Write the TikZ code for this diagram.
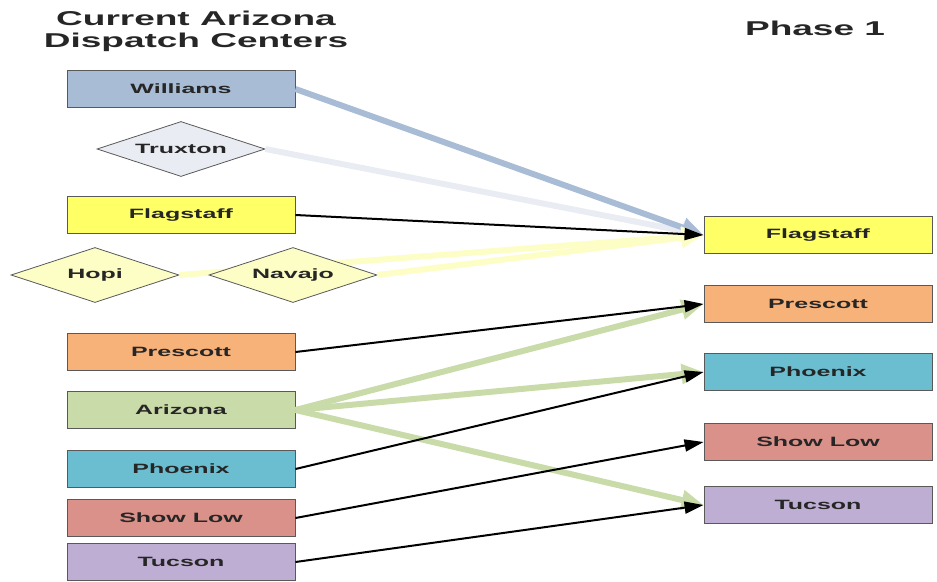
\documentclass[tikz,border=0pt]{standalone}
\usepackage{fontspec}
\setmainfont{Liberation Sans}
\newfontfamily\widefont{Liberation Sans}[FakeStretch=1.85]
\usetikzlibrary{shapes.geometric,arrows.meta}

\definecolor{willblue}{HTML}{A9BCD6}
\definecolor{truxgray}{HTML}{E9EDF3}
\definecolor{flagyel}{HTML}{FFFF66}
\definecolor{tribeyel}{HTML}{FDFDC6}
\definecolor{presorange}{HTML}{F7B27A}
\definecolor{azgreen}{HTML}{C9DBA8}
\definecolor{phxblue}{HTML}{6BBDD0}
\definecolor{slred}{HTML}{D9918A}
\definecolor{tucpurple}{HTML}{BFAED3}

\begin{document}
\begin{tikzpicture}[x=1pt,y=-1pt,
  box/.style={draw=black!65,line width=0.9pt,minimum width=228pt,minimum height=37pt,
    inner sep=0pt,font=\widefont\bfseries\fontsize{13.5}{16}\selectfont,text=black!85},
  dia/.style={diamond,aspect=3.05,draw=black!65,line width=0.8pt,minimum width=168pt,minimum height=55pt,
    inner sep=0pt,font=\widefont\bfseries\fontsize{13.5}{16}\selectfont,text=black!85},
  link/.style={line width=2pt,-{Triangle[length=19pt,width=12pt]}},
  feed/.style={line width=6pt,-{Triangle[length=22pt,width=19pt]}},
  head/.style={font=\widefont\bfseries\fontsize{20}{22}\selectfont,align=center,text=black!85}]
\useasboundingbox (0,0) rectangle (937,581);

% column titles
\node[head] (tcur) at (196,31) {Current Arizona\\Dispatch Centers};
\node[head] (tph) at (815,28) {Phase 1};

% current centers
\node[box,fill=willblue] (lwil) at (181,89) {Williams};
\node[dia,fill=truxgray] (ltrux) at (181,149) {Truxton};
\node[box,fill=flagyel] (lflag) at (181,215) {Flagstaff};
\node[dia,fill=tribeyel] (lhopi) at (95,275) {Hopi};
\node[box,fill=presorange] (lpres) at (181,352) {Prescott};
\node[box,fill=azgreen] (laz) at (181,410) {Arizona};
\node[box,fill=phxblue] (lphx) at (181,469) {Phoenix};
\node[box,fill=slred] (lsl) at (181,518) {Show Low};
\node[box,fill=tucpurple] (ltuc) at (181,562) {Tucson};

% phase 1 centers
\node[box,fill=flagyel] (rflag) at (818,235) {Flagstaff};
\node[box,fill=presorange] (rpres) at (818,304) {Prescott};
\node[box,fill=phxblue] (rphx) at (818,372) {Phoenix};
\node[box,fill=slred] (rsl) at (818,442) {Show Low};
\node[box,fill=tucpurple] (rtuc) at (818,505) {Tucson};

% merges
\draw[feed,truxgray] (ltrux.east) -- (rflag.west);
\draw[feed,willblue] (lwil.east) -- (rflag.west);
\draw[feed,tribeyel] (lhopi.east) -- (rflag.west);
\node[dia,fill=tribeyel] (lnav) at (293,275) {Navajo};
\draw[feed,tribeyel] (lnav.east) -- (rflag.west);
\draw[feed,azgreen] (laz.east) -- (rpres.west);
\draw[feed,azgreen] (laz.east) -- (rphx.west);
\draw[feed,azgreen] (laz.east) -- (rtuc.west);

\draw[link] (lflag.east) -- (rflag.west);
\draw[link] (lpres.east) -- (rpres.west);
\draw[link] (lphx.east) -- (rphx.west);
\draw[link] (lsl.east) -- (rsl.west);
\draw[link] (ltuc.east) -- (rtuc.west);
\end{tikzpicture}
\end{document}
